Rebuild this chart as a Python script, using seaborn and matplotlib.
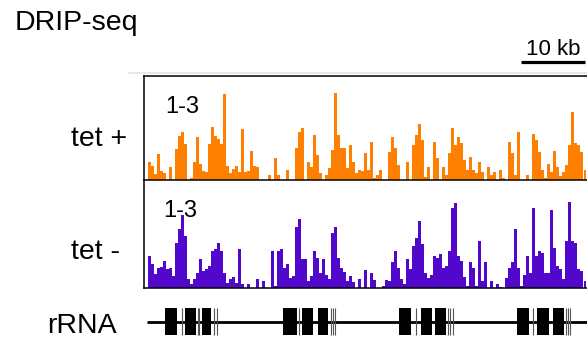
import numpy as np
import pandas as pd
import matplotlib
matplotlib.use("Agg")
import matplotlib.pyplot as plt
import matplotlib.transforms as mtransforms
from matplotlib.lines import Line2D
import seaborn as sns

sns.set_theme(style="white")
plt.rcParams['font.family'] = ['Liberation Sans', 'DejaVu Sans']
plt.rcParams['text.color'] = 'black'

# ---------------- data ----------------
BIN_KB = 0.469          # bin size (kb)
START_KB = 0.156        # first bin start (kb)
REGION_KB = 69.2        # visible region (kb)

tet_plus = [0, 18, 14, 6, 26, 9, 7, 0, 13, 0, 31, 44, 48, 36, 0, 2, 18, 43, 16, 9,
            8, 36, 53, 44, 41, 36, 86, 14, 7, 11, 14, 8, 51, 8, 9, 29, 14, 13, 0, 0,
            0, 5, 0, 22, 5, 0, 0, 10, 0, 0, 32, 48, 52, 0, 18, 13, 45, 25, 7, 0,
            5, 12, 30, 87, 45, 32, 32, 12, 35, 18, 7, 10, 9, 27, 10, 38, 2, 5, 10, 0,
            0, 28, 43, 32, 15, 0, 0, 18, 0, 35, 45, 56, 40, 3, 13, 0, 38, 22, 0, 13,
            5, 27, 52, 35, 43, 37, 20, 10, 23, 10, 7, 18, 8, 0, 13, 5, 8, 0, 10, 2,
            0, 38, 27, 5, 48, 0, 0, 5, 0, 46, 40, 28, 10, 2, 16, 8, 29, 13, 4, 8,
            15, 35, 68, 37, 35, 28, 10, 8]

tet_minus = [0, 32, 24, 14, 20, 21, 27, 19, 20, 12, 45, 59, 73, 52, 9, 4, 9, 15, 29, 17,
             19, 22, 37, 39, 45, 37, 15, 5, 9, 11, 5, 39, 4, 0, 4, 0, 0, 9, 0, 7,
             0, 0, 37, 2, 37, 39, 20, 24, 10, 12, 61, 69, 29, 29, 7, 12, 37, 30, 15, 29,
             13, 9, 55, 61, 30, 20, 16, 7, 12, 6, 0, 9, 0, 18, 0, 15, 8, 0, 0, 2,
             8, 7, 26, 37, 20, 9, 4, 29, 19, 42, 50, 67, 44, 15, 10, 13, 32, 30, 34, 20,
             22, 37, 80, 85, 32, 27, 11, 2, 26, 20, 2, 47, 7, 26, 0, 7, 0, 4, 1, 0,
             10, 20, 26, 59, 20, 2, 13, 32, 15, 80, 32, 37, 35, 15, 15, 78, 40, 22, 19, 9,
             47, 86, 47, 45, 19, 17, 7, 0]

track_labels = ["tet +", "tet -"]
range_label = "1-3"

# rRNA gene units: exon blocks (start, end) in kb
exon_start = [3.28, 6.41, 9.02, 21.67, 24.73, 27.14, 39.89, 43.28, 45.47, 58.23, 61.36, 63.86]
exon_end = [5.20, 8.13, 10.47, 23.86, 26.45, 28.80, 41.67, 44.95, 47.19, 60.20, 63.33, 65.63]
thin_marks = [5.98, 8.39, 8.64, 10.94, 11.36, 24.27, 29.17, 29.58, 29.84,
              42.50, 47.55, 47.81, 48.23, 60.83, 65.94, 66.20, 66.56]
gene_span = (0.45, 69.2)
scale_kb = 10
scale_end_kb = 68.9

ORANGE = "#FF8000"
PURPLE = "#5208CC"

# ---------------- figure ----------------
W, H = 587, 341
fig = plt.figure(figsize=(W / 100, H / 100), dpi=100)


def rect(left, top, right, bottom):
    return [left / W, 1 - bottom / H, (right - left) / W, (bottom - top) / H]


def track(top, bottom, vals, color, ymax, show_top):
    ax = fig.add_axes(rect(144, top, 587, bottom))
    df = pd.DataFrame({"pos": START_KB + BIN_KB * (np.arange(len(vals)) + 0.5),
                       "signal": vals})
    sns.barplot(data=df, x="pos", y="signal", native_scale=True, width=0.9,
                color=color, saturation=1, linewidth=0, errorbar=None, ax=ax)
    ax.set_xlim(0, REGION_KB)
    ax.set_ylim(0, ymax)
    ax.set_xticks([])
    ax.set_yticks([])
    ax.set_xlabel("")
    ax.set_ylabel("")
    for s in ["left", "bottom", "top", "right"]:
        ax.spines[s].set_visible(False)
    ax.spines["left"].set_visible(True)
    ax.spines["bottom"].set_visible(True)
    if show_top:
        ax.spines["top"].set_visible(True)
    for s in ax.spines.values():
        s.set_color("black")
        s.set_linewidth(1.1)
        s.set_zorder(5)
    ax.patch.set_alpha(0)
    return ax


ax1 = track(76, 180, tet_plus, ORANGE, 104, True)
ax2 = track(180, 288, tet_minus, PURPLE, 108, False)

# faint line above the top track
fig.add_artist(Line2D([128 / W, 1.0], [1 - 73 / H, 1 - 73 / H], color="#e4e4f4", lw=1.2))


def fy(py):
    return 1 - py / H


# range labels
fig.text(165 / W, fy(113), range_label, fontsize=17, ha="left", va="baseline")
fig.text(163 / W, fy(217), range_label, fontsize=17, ha="left", va="baseline")

# track labels
fig.text(127 / W, fy(146), track_labels[0], fontsize=20.5, ha="right", va="baseline")
fig.text(120 / W, fy(259), track_labels[1], fontsize=20.5, ha="right", va="baseline")

# title
fig.text(15 / W, fy(30), "DRIP-seq", fontsize=20.5, ha="left", va="baseline")

# scale bar
blend = mtransforms.blended_transform_factory(ax1.transData, ax1.transAxes)
ax1.plot([scale_end_kb - scale_kb, scale_end_kb], [(180 - 62) / 104] * 2,
         color="black", lw=2.3, transform=blend, clip_on=False, solid_capstyle="butt")
ax1.text(scale_end_kb - scale_kb / 2, (180 - 55) / 104, f"{scale_kb} kb",
         transform=blend, fontsize=16, ha="center", va="baseline")

# gene track
axg = fig.add_axes(rect(144, 300, 587, 341))
axg.set_xlim(0, REGION_KB)
axg.set_ylim(0, 41)
axg.axis("off")
axg.plot(gene_span, [19, 19], color="black", lw=2.0, solid_capstyle="butt")
starts = np.array(exon_start)
ends = np.array(exon_end)
axg.bar(x=starts, height=27, width=ends - starts, bottom=6, align="edge",
        color="black", linewidth=0)
axg.vlines(thin_marks, 6, 33, color="#555555", lw=0.8)
fig.text(47 / W, fy(333), "rRNA", fontsize=20.5, ha="left", va="baseline")

fig.savefig("out.png", dpi=100)
